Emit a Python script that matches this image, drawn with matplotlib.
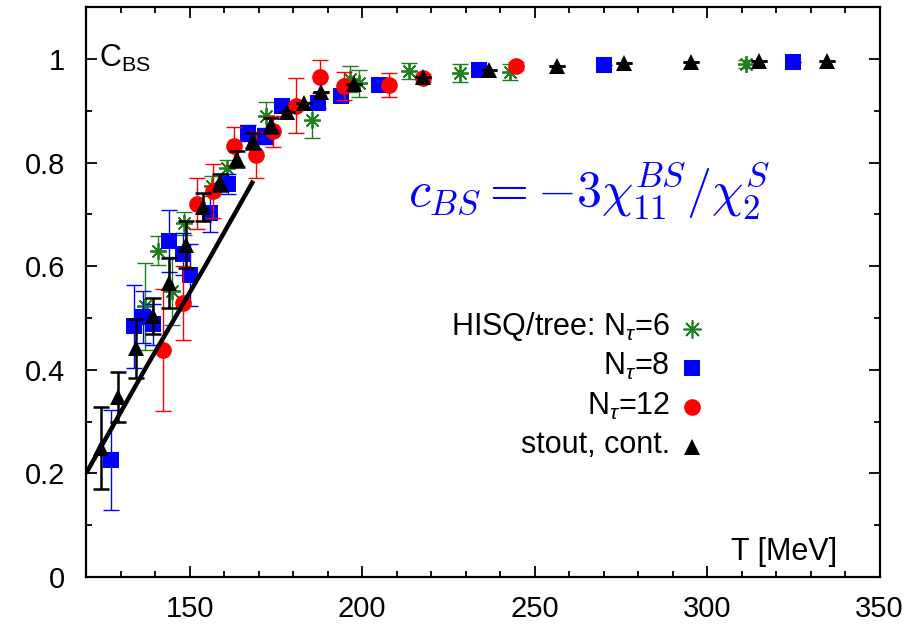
import matplotlib
matplotlib.use("Agg")
import matplotlib.pyplot as plt
from matplotlib.lines import Line2D
from matplotlib.ticker import MultipleLocator

# ---------------- data ----------------
# stout, continuum (black triangles)
T_stout = [124.3, 129.4, 134.4, 139.3, 144.2, 149.0, 153.9, 158.9, 163.7, 168.5,
           173.5, 178.3, 183.2, 188.0, 197.7, 217.6, 236.9, 256.6, 276.0, 295.5,
           315.2, 334.7]
c_stout = [0.249, 0.348, 0.442, 0.504, 0.568, 0.642, 0.714, 0.762, 0.807, 0.842,
           0.872, 0.897, 0.916, 0.936, 0.952, 0.966, 0.979, 0.987, 0.992, 0.994,
           0.996, 0.997]
e_stout = [0.080, 0.048, 0.057, 0.035, 0.048, 0.045, 0.027, 0.016, 0.016, 0.015,
           0.015, 0.0, 0.0, 0.0, 0.0, 0.0, 0.0, 0.0, 0.0, 0.0,
           0.0, 0.0]

# HISQ/tree N_tau=8 (blue squares)
T_n8 = [127.2, 133.8, 136.4, 139.5, 144.1, 148.2, 150.2, 155.9, 161.2, 167.0,
        171.9, 176.7, 187.3, 193.9, 204.9, 234.0, 270.0, 325.0]
c_n8 = [0.226, 0.484, 0.502, 0.488, 0.649, 0.624, 0.583, 0.703, 0.759, 0.857,
        0.852, 0.910, 0.916, 0.929, 0.950, 0.979, 0.989, 0.994]
e_n8 = [0.097, 0.080, 0.050, 0.040, 0.060, 0.040, 0.060, 0.037, 0.020, 0.015,
        0.015, 0.010, 0.010, 0.010, 0.008, 0.0, 0.0, 0.0]

# HISQ/tree N_tau=12 (red circles)
T_n12 = [142.4, 148.0, 152.3, 156.7, 162.9, 169.2, 174.3, 180.9, 187.8, 194.8,
         207.9, 217.6, 244.5]
c_n12 = [0.439, 0.529, 0.721, 0.746, 0.832, 0.815, 0.861, 0.910, 0.966, 0.948,
         0.950, 0.963, 0.987]
e_n12 = [0.118, 0.072, 0.050, 0.052, 0.037, 0.045, 0.030, 0.053, 0.032, 0.027,
         0.023, 0.008, 0.008]

# HISQ/tree N_tau=6 (green stars)
T_n6 = [137.1, 140.9, 144.9, 148.5, 156.6, 160.8, 172.2, 185.4, 196.5, 199.2,
        213.7, 228.4, 243.0, 311.2]
c_n6 = [0.523, 0.630, 0.552, 0.683, 0.755, 0.790, 0.890, 0.883, 0.962, 0.953,
        0.977, 0.973, 0.975, 0.990]
e_n6 = [0.084, 0.028, 0.066, 0.022, 0.020, 0.015, 0.028, 0.035, 0.025, 0.026,
        0.016, 0.017, 0.015, 0.008]

# HRG line
T_hrg = [120.0, 137.0, 154.5, 168.5]
c_hrg = [0.200, 0.400, 0.600, 0.765]

labels = ["HISQ/tree: N$_\\tau$=6", "N$_\\tau$=8", "N$_\\tau$=12", "stout, cont."]
xticks = [150, 200, 250, 300, 350]
yticks = [0, 0.2, 0.4, 0.6, 0.8, 1.0]
ytick_labels = ["0", "0.2", "0.4", "0.6", "0.8", "1"]

# ---------------- style ----------------
plt.rcParams['font.family'] = ['Liberation Sans', 'DejaVu Sans']
plt.rcParams['font.size'] = 21
plt.rcParams['mathtext.fontset'] = 'custom'
plt.rcParams['mathtext.rm'] = 'Liberation Sans'
plt.rcParams['mathtext.it'] = 'Liberation Sans:italic'
plt.rcParams['mathtext.bf'] = 'Liberation Sans:bold'

W, H = 911, 626
fig = plt.figure(figsize=(W / 100, H / 100), dpi=100)
ax = fig.add_axes([86 / W, 1 - 577 / H, (879.5 - 86) / W, (577 - 7.3) / H])

green = '#1c801c'
blue = '#0000ff'
red = '#ff0000'

ax.errorbar(T_n6, c_n6, yerr=e_n6, fmt='none', ecolor=green, elinewidth=1.0,
            capsize=6, capthick=1.0, zorder=2)
ax.plot(T_n6, c_n6, linestyle='none', marker=(8, 2, 0), markersize=12,
        markeredgecolor=green, markeredgewidth=1.3, zorder=3)

ax.errorbar(T_n8, c_n8, yerr=e_n8, fmt='none', ecolor=blue, elinewidth=1.0,
            capsize=6, capthick=1.0, zorder=4)
ax.plot(T_n8, c_n8, linestyle='none', marker='s', markersize=11,
        color=blue, markeredgewidth=0, zorder=5)

ax.errorbar(T_n12, c_n12, yerr=e_n12, fmt='none', ecolor=red, elinewidth=1.0,
            capsize=6, capthick=1.0, zorder=6)
ax.plot(T_n12, c_n12, linestyle='none', marker='o', markersize=12,
        color=red, markeredgewidth=0, zorder=7)

ax.plot(T_hrg, c_hrg, color='black', linewidth=3.2, solid_capstyle='butt', zorder=8)

ax.errorbar(T_stout, c_stout, yerr=e_stout, fmt='none', ecolor='black',
            elinewidth=1.8, capsize=6, capthick=1.8, zorder=9)
ax.plot(T_stout, c_stout, linestyle='none', marker='^', markersize=11.5,
        color='black', markeredgewidth=0, zorder=10)

ax.set_xlim(120, 350)
ax.set_ylim(0, 1.1)
ax.set_xticks(xticks)
ax.set_yticks(yticks)
ax.set_yticklabels(ytick_labels)
ax.xaxis.set_minor_locator(MultipleLocator(10))
ax.yaxis.set_minor_locator(MultipleLocator(0.1))
ax.tick_params(which='both', direction='in', top=True, right=True, width=1.3)
ax.tick_params(which='major', length=8)
ax.tick_params(axis='y', which='major', pad=15)
ax.tick_params(axis='x', which='major', pad=13)
ax.tick_params(which='minor', length=4)
for s in ax.spines.values():
    s.set_linewidth(1.6)

def fx(px):
    return px / W

def fy(py):
    return 1 - py / H

# axis labels inside the frame
fig.text(fx(99), fy(67), "C$_{\\rm BS}$", ha='left', va='baseline', fontsize=22)
fig.text(fx(837), fy(560), "T [MeV]", ha='right', va='baseline', fontsize=22)

# formula
fig.text(fx(408), fy(207), r"$c_{BS}=-3\chi^{BS}_{11}/\chi^{S}_{2}$",
         ha='left', va='baseline', fontsize=36, color=blue, math_fontfamily='cm')

# manual key
key_text_x = 670
key_base = [335, 375, 415, 453]
key_mark_y = [329, 368, 407, 447]
key_style = [dict(marker=(8, 2, 0), markersize=13, markeredgecolor=green, markeredgewidth=1.2),
             dict(marker='s', markersize=11, color=blue, markeredgewidth=0),
             dict(marker='o', markersize=12, color=red, markeredgewidth=0),
             dict(marker='^', markersize=11, color='black', markeredgewidth=0)]
for lab, yb, ym, st in zip(labels, key_base, key_mark_y, key_style):
    fig.text(fx(key_text_x), fy(yb), lab, ha='right', va='baseline', fontsize=22)
    fig.add_artist(Line2D([fx(692)], [fy(ym)], transform=fig.transFigure,
                          linestyle='none', **st))

fig.savefig("out.png", dpi=100)
